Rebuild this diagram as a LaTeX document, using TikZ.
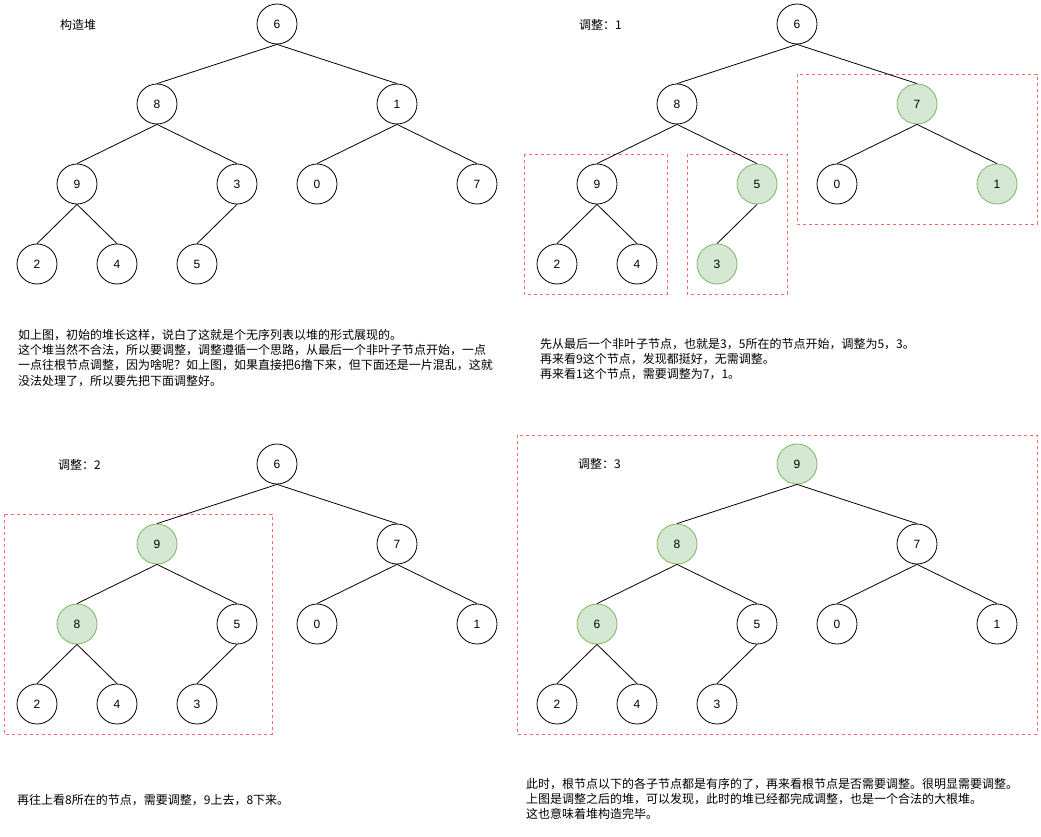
\documentclass[tikz,border=0pt]{standalone}
\usepackage{fontspec}
\setmainfont{Liberation Sans}
\newfontfamily\cjk{Noto Sans CJK SC}
\definecolor{gfill}{HTML}{D5E8D4}
\definecolor{gline}{HTML}{82B366}
\definecolor{rdash}{HTML}{FF6666}
\tikzset{
  hn/.style={circle, draw=black, line width=0.8pt, minimum size=40pt, inner sep=0pt, font=\fontsize{12}{14}\selectfont},
  gn/.style={hn, draw=gline, fill=gfill},
  edge/.style={draw=black, line width=0.8pt},
  grp/.style={draw=rdash, line width=0.8pt, dash pattern=on 3pt off 3pt},
  ttl/.style={anchor=west, inner sep=0pt, font=\cjk\fontsize{12}{14}\selectfont},
  para/.style={anchor=north west, inner sep=0pt, align=left, font=\cjk\fontsize{12}{15.3}\selectfont}
}
\begin{document}
\begin{tikzpicture}[x=1pt, y=-1pt]
\useasboundingbox (0,0) rectangle (1041,837);
\fill[white] (0,0) rectangle (1041,837);

% ---------- Tree 1 ----------
\node[ttl] (t1) at (60,25) {构造堆};
\node[hn] (a6) at (277,24) {6};
\node[hn] (a8) at (157,104) {8};
\node[hn] (a1) at (397,104) {1};
\node[hn] (a9) at (77,184) {9};
\node[hn] (a3) at (237,184) {3};
\node[hn] (a0) at (317,184) {0};
\node[hn] (a7) at (477,184) {7};
\node[hn] (a2) at (37,264) {2};
\node[hn] (a4) at (117,264) {4};
\node[hn] (a5) at (197,264) {5};
\foreach \p/\c in {a6/a8,a6/a1,a8/a9,a8/a3,a1/a0,a1/a7,a9/a2,a9/a4,a3/a5}
  \draw[edge] (\p.south) -- (\c.north);
\node[para] (p1) at (18,329) {如上图，初始的堆长这样，说白了这就是个无序列表以堆的形式展现的。\\
这个堆当然不合法，所以要调整，调整遵循一个思路，从最后一个非叶子节点开始，一点\\
一点往根节点调整，因为啥呢？如上图，如果直接把6撸下来，但下面还是一片混乱，这就\\
没法处理了，所以要先把下面调整好。};

% ---------- Tree 2 ----------
\draw[grp] (524,154) rectangle (667,294);
\draw[grp] (687,154) rectangle (787,294);
\draw[grp] (797,74) rectangle (1037,224);
\node[ttl] (t2) at (579,25) {调整：1};
\node[hn] (b6) at (797,24) {6};
\node[hn] (b8) at (677,104) {8};
\node[gn] (b7) at (917,104) {7};
\node[hn] (b9) at (597,184) {9};
\node[gn] (b5) at (757,184) {5};
\node[hn] (b0) at (837,184) {0};
\node[gn] (b1) at (997,184) {1};
\node[hn] (b2) at (557,264) {2};
\node[hn] (b4) at (637,264) {4};
\node[gn] (b3) at (717,264) {3};
\foreach \p/\c in {b6/b8,b6/b7,b8/b9,b8/b5,b7/b0,b7/b1,b9/b2,b9/b4,b5/b3}
  \draw[edge] (\p.south) -- (\c.north);
\node[para] (p2) at (540,338) {先从最后一个非叶子节点，也就是3，5所在的节点开始，调整为5，3。\\
再来看9这个节点，发现都挺好，无需调整。\\
再来看1这个节点，需要调整为7，1。};

% ---------- Tree 3 ----------
\draw[grp] (4,514) rectangle (272,734);
\node[ttl] (t3) at (58,465) {调整：2};
\node[hn] (c6) at (277,464) {6};
\node[gn] (c9) at (157,544) {9};
\node[hn] (c7) at (397,544) {7};
\node[gn] (c8) at (77,624) {8};
\node[hn] (c5) at (237,624) {5};
\node[hn] (c0) at (317,624) {0};
\node[hn] (c1) at (477,624) {1};
\node[hn] (c2) at (37,704) {2};
\node[hn] (c4) at (117,704) {4};
\node[hn] (c3) at (197,704) {3};
\foreach \p/\c in {c6/c9,c6/c7,c9/c8,c9/c5,c7/c0,c7/c1,c8/c2,c8/c4,c5/c3}
  \draw[edge] (\p.south) -- (\c.north);
\node[para] (p3) at (17,794) {再往上看8所在的节点，需要调整，9上去，8下来。};

% ---------- Tree 4 ----------
\draw[grp] (517,435) rectangle (1037,734);
\node[ttl] (t4) at (578,464) {调整：3};
\node[gn] (d9) at (797,464) {9};
\node[gn] (d8) at (677,544) {8};
\node[hn] (d7) at (917,544) {7};
\node[gn] (d6) at (597,624) {6};
\node[hn] (d5) at (757,624) {5};
\node[hn] (d0) at (837,624) {0};
\node[hn] (d1) at (997,624) {1};
\node[hn] (d2) at (557,704) {2};
\node[hn] (d4) at (637,704) {4};
\node[hn] (d3) at (717,704) {3};
\foreach \p/\c in {d9/d8,d9/d7,d8/d6,d8/d5,d7/d0,d7/d1,d6/d2,d6/d4,d5/d3}
  \draw[edge] (\p.south) -- (\c.north);
\node[para] (p4) at (526,778) {此时，根节点以下的各子节点都是有序的了，再来看根节点是否需要调整。很明显需要调整。\\
上图是调整之后的堆，可以发现，此时的堆已经都完成调整，也是一个合法的大根堆。\\
这也意味着堆构造完毕。};
\end{tikzpicture}
\end{document}
